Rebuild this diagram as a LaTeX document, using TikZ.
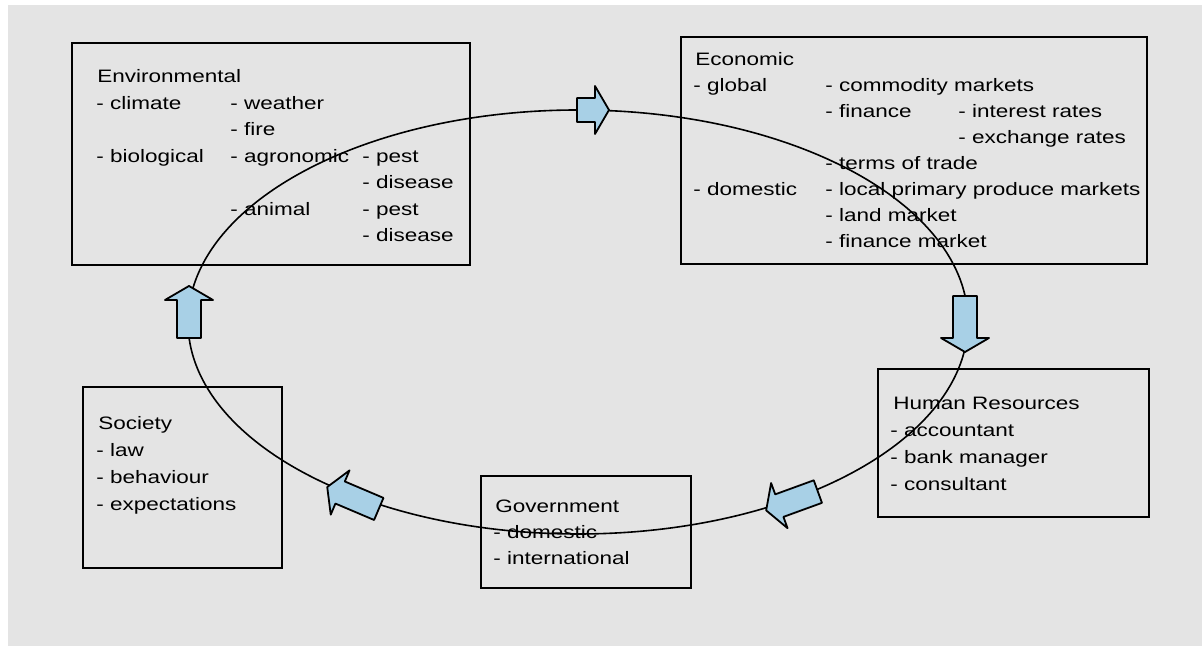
\documentclass[tikz,border=0pt]{standalone}
\usepackage{fontspec}
\setmainfont{Liberation Sans}[FakeStretch=1.25]
\definecolor{bggray}{RGB}{228,228,228}
\definecolor{arrowblue}{RGB}{168,208,230}
\newcommand\blockarrow[4]{%
  \begin{scope}[shift={(#1,#2)},rotate=#3]
    \filldraw[barrow] ({-#4/2},-12) -- ({#4/2-14},-12) -- ({#4/2-14},-24) -- ({#4/2},0)
      -- ({#4/2-14},24) -- ({#4/2-14},12) -- ({-#4/2},12) -- cycle;
  \end{scope}}
\begin{document}
\begin{tikzpicture}[x=0.5pt,y=0.5pt,
  box/.style={draw=black, line width=1pt, rectangle, inner sep=0pt},
  txt/.style={anchor=base west, inner sep=0pt, font=\fontsize{9}{11}\selectfont},
  barrow/.style={fill=arrowblue, draw=black, line width=0.9pt, line join=round},
  cycleline/.style={draw=black, line width=0.8pt}]
\useasboundingbox (0,0) rectangle (1202,646);
\fill[white] (0,0) rectangle (1202,646);
\fill[bggray] (8,0) rectangle (1202,641);

% boxes (sizes in pt: half the pixel values)
\node[box, minimum width=199pt, minimum height=111pt] (env) at (271,492) {};
\node[box, minimum width=233pt, minimum height=113.5pt] (econ) at (914,495.5) {};
\node[box, minimum width=135.5pt, minimum height=74pt] (hr) at (1013.5,203) {};
\node[box, minimum width=105pt, minimum height=56pt] (gov) at (586,114) {};
\node[box, minimum width=99.5pt, minimum height=90.5pt] (soc) at (182.5,168.5) {};

% cycle
\draw[cycleline] (578,324) ellipse [x radius=390, y radius=212];

% block arrows
\blockarrow{593}{536}{0}{32}
\blockarrow{189}{334}{90}{52}
\blockarrow{965}{322}{-90}{56}
\blockarrow{792}{145}{200}{55}
\blockarrow{353}{148}{157}{56}

% Environmental
\node[txt] (e0) at (97,563) {Environmental};
\node[txt] (e1) at (96,536.5) {- climate};
\node[txt] (e2) at (230,536.5) {- weather};
\node[txt] (e3) at (230,510) {- fire};
\node[txt] (e4) at (96,483.5) {- biological};
\node[txt] (e5) at (230,483.5) {- agronomic};
\node[txt] (e6) at (362,483.5) {- pest};
\node[txt] (e7) at (362,457) {- disease};
\node[txt] (e8) at (230,430.5) {- animal};
\node[txt] (e9) at (362,430.5) {- pest};
\node[txt] (e10) at (362,404) {- disease};

% Economic
\node[txt] (c0) at (695,580) {Economic};
\node[txt] (c1) at (693,554) {- global};
\node[txt] (c2) at (825,554) {- commodity markets};
\node[txt] (c3) at (825,528) {- finance};
\node[txt] (c4) at (958,528) {- interest rates};
\node[txt] (c5) at (958,502) {- exchange rates};
\node[txt] (c6) at (825,476) {- terms of trade};
\node[txt] (c7) at (693,450) {- domestic};
\node[txt] (c8) at (825,450) {- local primary produce markets};
\node[txt] (c9) at (825,424) {- land market};
\node[txt] (c10) at (825,398) {- finance market};

% Human Resources
\node[txt] (h0) at (893,236) {Human Resources};
\node[txt] (h1) at (890,209) {- accountant};
\node[txt] (h2) at (890,182) {- bank manager};
\node[txt] (h3) at (890,155) {- consultant};

% Government
\node[txt] (g0) at (495,133) {Government};
\node[txt] (g1) at (493,107) {- domestic};
\node[txt] (g2) at (493,81) {- international};

% Society
\node[txt] (s0) at (98,216) {Society};
\node[txt] (s1) at (96,189) {- law};
\node[txt] (s2) at (96,162) {- behaviour};
\node[txt] (s3) at (96,135) {- expectations};
\end{tikzpicture}
\end{document}
